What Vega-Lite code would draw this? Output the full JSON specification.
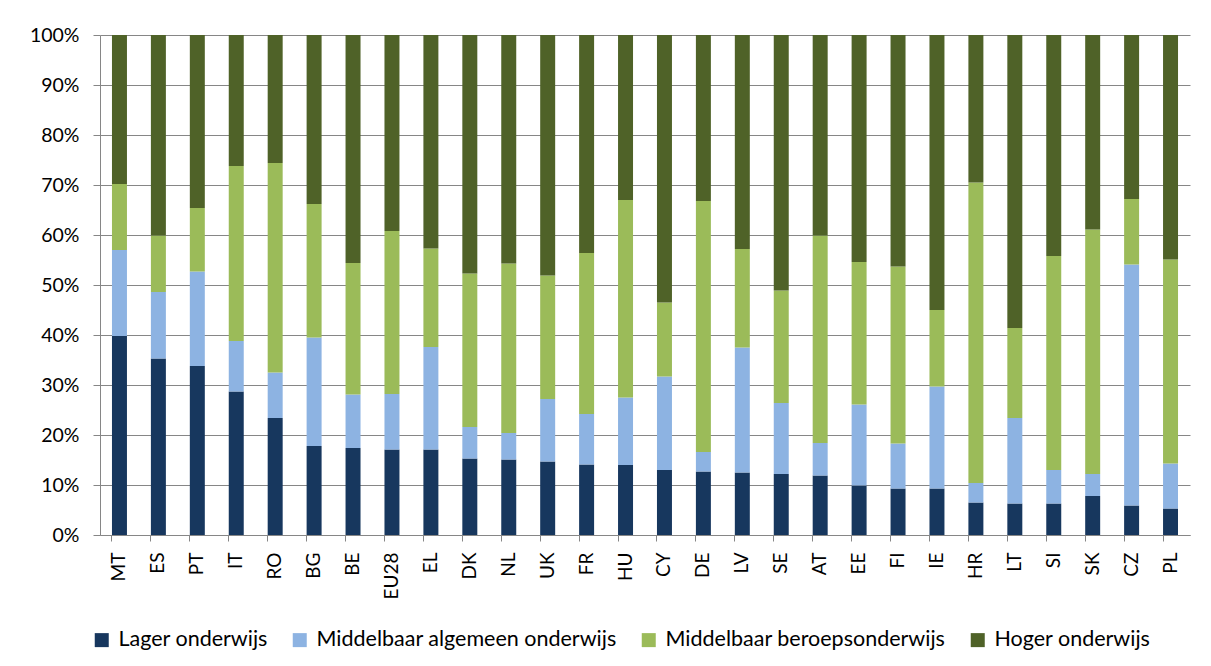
{
  "$schema": "https://vega.github.io/schema/vega-lite/v6.json",
  "width": 1090,
  "height": 500,
  "autosize": {"type": "none"},
  "padding": {"left": 100, "top": 35, "right": 21, "bottom": 131},
  "background": "white",
  "config": {
    "font": "Lato",
    "view": {"stroke": null},
    "axis": {"labelFont": "Lato", "labelColor": "#000000", "domainColor": "#868686", "tickColor": "#868686", "gridColor": "#868686", "domainWidth": 1, "tickWidth": 1}
  },
  "data": {
    "values": [
      {"land":"MT","niveau":"Lager onderwijs","rang":1,"pct":39.8},{"land":"MT","niveau":"Middelbaar algemeen onderwijs","rang":2,"pct":17.2},{"land":"MT","niveau":"Middelbaar beroepsonderwijs","rang":3,"pct":13.2},{"land":"MT","niveau":"Hoger onderwijs","rang":4,"pct":29.8},
      {"land":"ES","niveau":"Lager onderwijs","rang":1,"pct":35.3},{"land":"ES","niveau":"Middelbaar algemeen onderwijs","rang":2,"pct":13.3},{"land":"ES","niveau":"Middelbaar beroepsonderwijs","rang":3,"pct":11.3},{"land":"ES","niveau":"Hoger onderwijs","rang":4,"pct":40.1},
      {"land":"PT","niveau":"Lager onderwijs","rang":1,"pct":33.8},{"land":"PT","niveau":"Middelbaar algemeen onderwijs","rang":2,"pct":18.9},{"land":"PT","niveau":"Middelbaar beroepsonderwijs","rang":3,"pct":12.7},{"land":"PT","niveau":"Hoger onderwijs","rang":4,"pct":34.6},
      {"land":"IT","niveau":"Lager onderwijs","rang":1,"pct":28.7},{"land":"IT","niveau":"Middelbaar algemeen onderwijs","rang":2,"pct":10.1},{"land":"IT","niveau":"Middelbaar beroepsonderwijs","rang":3,"pct":35.0},{"land":"IT","niveau":"Hoger onderwijs","rang":4,"pct":26.2},
      {"land":"RO","niveau":"Lager onderwijs","rang":1,"pct":23.4},{"land":"RO","niveau":"Middelbaar algemeen onderwijs","rang":2,"pct":9.1},{"land":"RO","niveau":"Middelbaar beroepsonderwijs","rang":3,"pct":41.9},{"land":"RO","niveau":"Hoger onderwijs","rang":4,"pct":25.6},
      {"land":"BG","niveau":"Lager onderwijs","rang":1,"pct":17.8},{"land":"BG","niveau":"Middelbaar algemeen onderwijs","rang":2,"pct":21.7},{"land":"BG","niveau":"Middelbaar beroepsonderwijs","rang":3,"pct":26.7},{"land":"BG","niveau":"Hoger onderwijs","rang":4,"pct":33.8},
      {"land":"BE","niveau":"Lager onderwijs","rang":1,"pct":17.4},{"land":"BE","niveau":"Middelbaar algemeen onderwijs","rang":2,"pct":10.7},{"land":"BE","niveau":"Middelbaar beroepsonderwijs","rang":3,"pct":26.3},{"land":"BE","niveau":"Hoger onderwijs","rang":4,"pct":45.6},
      {"land":"EU28","niveau":"Lager onderwijs","rang":1,"pct":17.1},{"land":"EU28","niveau":"Middelbaar algemeen onderwijs","rang":2,"pct":11.1},{"land":"EU28","niveau":"Middelbaar beroepsonderwijs","rang":3,"pct":32.6},{"land":"EU28","niveau":"Hoger onderwijs","rang":4,"pct":39.2},
      {"land":"EL","niveau":"Lager onderwijs","rang":1,"pct":17.1},{"land":"EL","niveau":"Middelbaar algemeen onderwijs","rang":2,"pct":20.5},{"land":"EL","niveau":"Middelbaar beroepsonderwijs","rang":3,"pct":19.7},{"land":"EL","niveau":"Hoger onderwijs","rang":4,"pct":42.7},
      {"land":"DK","niveau":"Lager onderwijs","rang":1,"pct":15.3},{"land":"DK","niveau":"Middelbaar algemeen onderwijs","rang":2,"pct":6.3},{"land":"DK","niveau":"Middelbaar beroepsonderwijs","rang":3,"pct":30.7},{"land":"DK","niveau":"Hoger onderwijs","rang":4,"pct":47.7},
      {"land":"NL","niveau":"Lager onderwijs","rang":1,"pct":15.1},{"land":"NL","niveau":"Middelbaar algemeen onderwijs","rang":2,"pct":5.3},{"land":"NL","niveau":"Middelbaar beroepsonderwijs","rang":3,"pct":33.9},{"land":"NL","niveau":"Hoger onderwijs","rang":4,"pct":45.7},
      {"land":"UK","niveau":"Lager onderwijs","rang":1,"pct":14.7},{"land":"UK","niveau":"Middelbaar algemeen onderwijs","rang":2,"pct":12.5},{"land":"UK","niveau":"Middelbaar beroepsonderwijs","rang":3,"pct":24.7},{"land":"UK","niveau":"Hoger onderwijs","rang":4,"pct":48.1},
      {"land":"FR","niveau":"Lager onderwijs","rang":1,"pct":14.1},{"land":"FR","niveau":"Middelbaar algemeen onderwijs","rang":2,"pct":10.1},{"land":"FR","niveau":"Middelbaar beroepsonderwijs","rang":3,"pct":32.2},{"land":"FR","niveau":"Hoger onderwijs","rang":4,"pct":43.6},
      {"land":"HU","niveau":"Lager onderwijs","rang":1,"pct":14.0},{"land":"HU","niveau":"Middelbaar algemeen onderwijs","rang":2,"pct":13.5},{"land":"HU","niveau":"Middelbaar beroepsonderwijs","rang":3,"pct":39.5},{"land":"HU","niveau":"Hoger onderwijs","rang":4,"pct":33.0},
      {"land":"CY","niveau":"Lager onderwijs","rang":1,"pct":13.0},{"land":"CY","niveau":"Middelbaar algemeen onderwijs","rang":2,"pct":18.7},{"land":"CY","niveau":"Middelbaar beroepsonderwijs","rang":3,"pct":14.8},{"land":"CY","niveau":"Hoger onderwijs","rang":4,"pct":53.5},
      {"land":"DE","niveau":"Lager onderwijs","rang":1,"pct":12.7},{"land":"DE","niveau":"Middelbaar algemeen onderwijs","rang":2,"pct":3.9},{"land":"DE","niveau":"Middelbaar beroepsonderwijs","rang":3,"pct":50.2},{"land":"DE","niveau":"Hoger onderwijs","rang":4,"pct":33.2},
      {"land":"LV","niveau":"Lager onderwijs","rang":1,"pct":12.5},{"land":"LV","niveau":"Middelbaar algemeen onderwijs","rang":2,"pct":25.0},{"land":"LV","niveau":"Middelbaar beroepsonderwijs","rang":3,"pct":19.7},{"land":"LV","niveau":"Hoger onderwijs","rang":4,"pct":42.8},
      {"land":"SE","niveau":"Lager onderwijs","rang":1,"pct":12.2},{"land":"SE","niveau":"Middelbaar algemeen onderwijs","rang":2,"pct":14.2},{"land":"SE","niveau":"Middelbaar beroepsonderwijs","rang":3,"pct":22.5},{"land":"SE","niveau":"Hoger onderwijs","rang":4,"pct":51.1},
      {"land":"AT","niveau":"Lager onderwijs","rang":1,"pct":11.9},{"land":"AT","niveau":"Middelbaar algemeen onderwijs","rang":2,"pct":6.5},{"land":"AT","niveau":"Middelbaar beroepsonderwijs","rang":3,"pct":41.5},{"land":"AT","niveau":"Hoger onderwijs","rang":4,"pct":40.1},
      {"land":"EE","niveau":"Lager onderwijs","rang":1,"pct":9.9},{"land":"EE","niveau":"Middelbaar algemeen onderwijs","rang":2,"pct":16.2},{"land":"EE","niveau":"Middelbaar beroepsonderwijs","rang":3,"pct":28.5},{"land":"EE","niveau":"Hoger onderwijs","rang":4,"pct":45.4},
      {"land":"FI","niveau":"Lager onderwijs","rang":1,"pct":9.3},{"land":"FI","niveau":"Middelbaar algemeen onderwijs","rang":2,"pct":9.0},{"land":"FI","niveau":"Middelbaar beroepsonderwijs","rang":3,"pct":35.4},{"land":"FI","niveau":"Hoger onderwijs","rang":4,"pct":46.3},
      {"land":"IE","niveau":"Lager onderwijs","rang":1,"pct":9.3},{"land":"IE","niveau":"Middelbaar algemeen onderwijs","rang":2,"pct":20.4},{"land":"IE","niveau":"Middelbaar beroepsonderwijs","rang":3,"pct":15.3},{"land":"IE","niveau":"Hoger onderwijs","rang":4,"pct":55.0},
      {"land":"HR","niveau":"Lager onderwijs","rang":1,"pct":6.5},{"land":"HR","niveau":"Middelbaar algemeen onderwijs","rang":2,"pct":3.9},{"land":"HR","niveau":"Middelbaar beroepsonderwijs","rang":3,"pct":60.1},{"land":"HR","niveau":"Hoger onderwijs","rang":4,"pct":29.5},
      {"land":"LT","niveau":"Lager onderwijs","rang":1,"pct":6.3},{"land":"LT","niveau":"Middelbaar algemeen onderwijs","rang":2,"pct":17.1},{"land":"LT","niveau":"Middelbaar beroepsonderwijs","rang":3,"pct":18.0},{"land":"LT","niveau":"Hoger onderwijs","rang":4,"pct":58.6},
      {"land":"SI","niveau":"Lager onderwijs","rang":1,"pct":6.3},{"land":"SI","niveau":"Middelbaar algemeen onderwijs","rang":2,"pct":6.7},{"land":"SI","niveau":"Middelbaar beroepsonderwijs","rang":3,"pct":42.8},{"land":"SI","niveau":"Hoger onderwijs","rang":4,"pct":44.2},
      {"land":"SK","niveau":"Lager onderwijs","rang":1,"pct":7.8},{"land":"SK","niveau":"Middelbaar algemeen onderwijs","rang":2,"pct":4.4},{"land":"SK","niveau":"Middelbaar beroepsonderwijs","rang":3,"pct":48.9},{"land":"SK","niveau":"Hoger onderwijs","rang":4,"pct":38.9},
      {"land":"CZ","niveau":"Lager onderwijs","rang":1,"pct":5.9},{"land":"CZ","niveau":"Middelbaar algemeen onderwijs","rang":2,"pct":48.2},{"land":"CZ","niveau":"Middelbaar beroepsonderwijs","rang":3,"pct":13.1},{"land":"CZ","niveau":"Hoger onderwijs","rang":4,"pct":32.8},
      {"land":"PL","niveau":"Lager onderwijs","rang":1,"pct":5.3},{"land":"PL","niveau":"Middelbaar algemeen onderwijs","rang":2,"pct":9.0},{"land":"PL","niveau":"Middelbaar beroepsonderwijs","rang":3,"pct":40.8},{"land":"PL","niveau":"Hoger onderwijs","rang":4,"pct":44.9}
    ]
  },
  "mark": {"type": "bar"},
  "encoding": {
    "x": {
      "field": "land", "type": "nominal", "sort": null,
      "scale": {"paddingInner": 0.615, "paddingOuter": 0.3075},
      "axis": {"title": null, "labelAngle": -90, "labelFontSize": 19, "labelPadding": 11, "tickSize": 6, "bandPosition": 0, "domainColor": "#868686", "grid": false}
    },
    "y": {
      "field": "pct", "type": "quantitative", "stack": "normalize",
      "scale": {"domain": [0, 1], "nice": false},
      "axis": {"title": null, "format": ".0%", "values": [0,0.1,0.2,0.3,0.4,0.5,0.6,0.7,0.8,0.9,1], "labelFontSize": 19.5, "labelPadding": 14, "tickSize": 7, "grid": true, "gridColor": "#868686", "gridWidth": 1}
    },
    "color": {
      "field": "niveau", "type": "nominal",
      "scale": {
        "domain": ["Lager onderwijs", "Middelbaar algemeen onderwijs", "Middelbaar beroepsonderwijs", "Hoger onderwijs"],
        "range": ["#17375E", "#8DB3E2", "#9BBB59", "#4F6228"]
      },
      "legend": {
        "title": null, "orient": "none", "legendX": -9, "legendY": 594,
        "direction": "horizontal", "columns": 4, "columnPadding": 21,
        "symbolType": "square", "symbolSize": 196, "symbolStrokeWidth": 0, "symbolOpacity": 1,
        "labelFontSize": 21.5, "labelFont": "Lato", "labelColor": "#000000", "labelOffset": 6, "labelLimit": 400
      }
    },
    "order": {"field": "rang", "sort": "ascending"}
  }
}
